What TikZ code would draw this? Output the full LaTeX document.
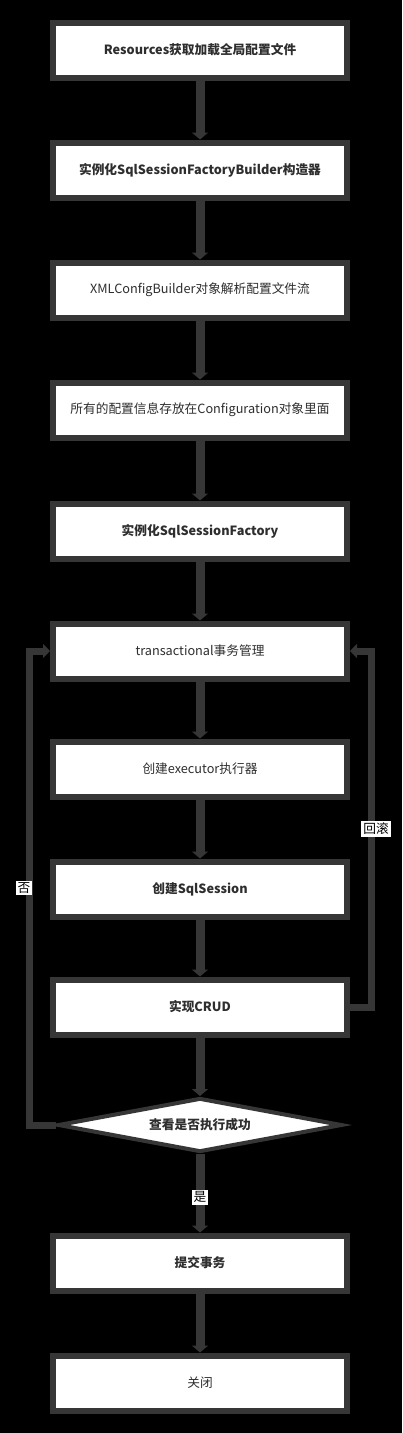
\documentclass[tikz,border=0pt]{standalone}
\usepackage{fontspec}
\setmainfont{Noto Sans CJK SC}
\usepackage{tikz}
\usetikzlibrary{shapes.geometric}
\usetikzlibrary{arrows.meta}
\definecolor{frame}{HTML}{363636}
\definecolor{ink}{HTML}{2e2e2e}
\tikzset{
	proc/.style={
			rectangle, fill=white, draw=frame, line width=6pt,
			minimum width=294pt, minimum height=55pt, inner sep=0pt,
			text=ink, font=\fontsize{12.7}{15}\selectfont
		},
	procb/.style={proc, font=\fontsize{12.7}{15}\selectfont\bfseries},
	check/.style={
			diamond, fill=white, draw=frame, line width=4pt, aspect=5.6,
			minimum width=284pt, minimum height=54pt, inner sep=0pt,
			text=ink, font=\fontsize{12.7}{15}\selectfont\bfseries
		},
	flow/.style={draw=frame, line width=9pt, -{Triangle[length=7pt,width=16pt]}},
	back/.style={draw=frame, line width=7pt, -{Triangle[length=7pt,width=14pt]}},
	lbl/.style={fill=white, text=black, inner sep=2pt, line width=0pt, font=\fontsize{12.7}{15}\selectfont}
}

\begin{document}
\begin{tikzpicture}[x=1pt,y=-1pt]
		\fill[black] (0,0) rectangle (402,1433);
		\node[procb] (res) at (200,50) {Resources获取加载全局配置文件};
		\node[procb] (bld) at (200,170) {实例化SqlSessionFactoryBuilder构造器};
		\node[proc] (xml) at (200,290) {XMLConfigBuilder对象解析配置文件流};
		\node[proc] (cfg) at (200,410) {所有的配置信息存放在Configuration对象里面};
		\node[procb] (fac) at (200,531) {实例化SqlSessionFactory};
		\node[proc] (tx) at (200,651) {transactional事务管理};
		\node[proc] (exe) at (200,769) {创建executor执行器};
		\node[procb] (ses) at (200,889) {创建SqlSession};
		\node[procb] (crud) at (200,1007) {实现CRUD};
		\node[check] (chk) at (200,1125) {查看是否执行成功};
		\node[procb] (commit) at (200,1263) {提交事务};
		\node[proc] (close) at (200,1383) {关闭};
		\coordinate (nl) at (29,651);
		\coordinate (nr) at (371,651);
		\draw[flow] (res) -- (bld);
		\draw[flow] (bld) -- (xml);
		\draw[flow] (xml) -- (cfg);
		\draw[flow] (cfg) -- (fac);
		\draw[flow] (fac) -- (tx);
		\draw[flow] (tx) -- (exe);
		\draw[flow] (exe) -- (ses);
		\draw[flow] (ses) -- (crud);
		\draw[flow] (crud) -- (chk);
		\draw[flow] (chk) -- node[lbl,pos=0.55]{是} (commit);
		\draw[flow] (commit) -- (close);
		\draw[back] (chk.west) -| node[lbl,pos=0.75,xshift=-5pt]{否} (nl) -- (tx.west);
		\draw[back] (crud.east) -| node[lbl,pos=0.75,xshift=5pt]{回滚} (nr) -- (tx.east);
	\end{tikzpicture}
\end{document}
